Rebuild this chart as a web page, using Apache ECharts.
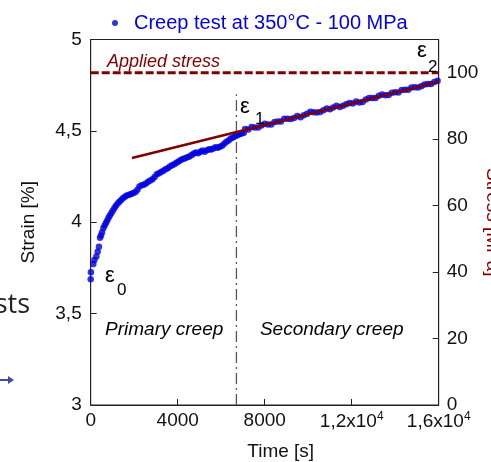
<!DOCTYPE html>
<html>
<head>
<meta charset="utf-8">
<script src="https://cdn.jsdelivr.net/npm/echarts@6/dist/echarts.min.js"></script>
<style>html,body{margin:0;padding:0;background:#fff;}#c{width:491px;height:462px;}</style>
</head>
<body>
<div id="c"></div>
<script>
// ---- data ----
var timeS = [0,10,120,170,260,320,380,430,470,520,580,640,700,760,820,880,950,1020,1090,1160,1240,1320,1400,1480,1570,1660,1760,1860,1960,2060,2150,2240,2340,2440,2540,2640,2740,2840,2940,3040,3140,3240,3340,3440,3540,3640,3740,3840,3940,4040,4140,4240,4340,4440,4540,4640,4740,4840,4940,5040,5140,5240,5340,5440,5540,5640,5740,5840,5940,6040,6140,6240,6340,6440,6540,6640,6740,6840,6940,7040,
  7100,7250,7400,7550,7700,7850,8000,8150,8300,8450,8600,8750,8900,9050,9200,9350,9500,9650,9800,9950,10100,10250,10400,10550,10700,10850,11000,11150,11300,11450,11600,11750,11900,12050,12200,12350,12500,12650,12800,12950,13100,13250,13400,13550,13700,13850,14000,14150,14300,14450,14600,14750,14900,15050,15200,15350,15500,15650,15800,15950];
var strainPct = [3.688,3.726,3.772,3.793,3.812,3.839,3.866,3.915,3.928,3.944,3.967,3.982,3.996,4.010,4.025,4.037,4.050,4.064,4.078,4.090,4.102,4.112,4.122,4.132,4.140,4.146,4.150,4.155,4.160,4.165,4.178,4.195,4.203,4.205,4.212,4.222,4.228,4.235,4.248,4.262,4.268,4.275,4.282,4.290,4.296,4.305,4.312,4.318,4.326,4.332,4.340,4.346,4.350,4.356,4.360,4.368,4.376,4.382,4.378,4.386,4.392,4.386,4.394,4.400,4.398,4.404,4.410,4.408,4.413,4.418,4.430,4.440,4.448,4.458,4.464,4.470,4.476,4.482,4.486,4.490,
  4.510,4.507,4.521,4.519,4.519,4.530,4.539,4.535,4.535,4.549,4.551,4.551,4.567,4.566,4.565,4.571,4.582,4.575,4.586,4.594,4.604,4.602,4.601,4.603,4.613,4.623,4.618,4.628,4.637,4.630,4.638,4.646,4.653,4.650,4.661,4.655,4.658,4.672,4.680,4.680,4.680,4.692,4.699,4.695,4.696,4.708,4.711,4.710,4.724,4.725,4.725,4.738,4.739,4.737,4.744,4.754,4.757,4.757,4.768,4.774];

var fitTime = [1900, 16000];
var fitStrain = [4.352, 4.769];

var stressTime = [0, 16000];
var stressMPa = [100, 100];

var boundaryTime = [6700, 6700];
var boundaryStrain = [3, 4.70];

var xTicks = [0, 16000, 4000];      // min, max, interval
var yLeftTicks = [3, 5, 0.5];
var yRightTicks = [0, 110, 20];

var seriesName = 'Creep test at 350°C - 100 MPa';

// annotation texts and their anchor points (data coordinates)
var annotText   = ['Applied stress', 'Primary creep', 'Secondary creep', 'ε', '0', 'ε', '1', 'ε', '2'];
var annotTime   = [750, 660, 7780, 660, 1209, 6864, 7554, 15002, 15508];
var annotStrain = [4.877, 3.410, 3.410, 3.706, 3.629, 4.631, 4.565, 4.937, 4.849];
var annotKind   = ['stress', 'italic', 'italic', 'eps', 'sub', 'eps', 'sub', 'eps', 'sub'];

// ---- chart ----
var FONT = 'Liberation Sans, Arial, sans-serif';
var DARKRED = '#800000';
var BLUE = '#0000e0';

var kindStyle = {
  stress: {color: DARKRED, fontStyle: 'italic', fontSize: 18},
  italic: {color: '#000', fontStyle: 'italic', fontSize: 19},
  eps: {color: '#000', fontSize: 22},
  sub: {color: '#000', fontSize: 17}
};

var scatterData = timeS.map(function (t, i) { return [t, strainPct[i]]; });
var annotData = annotText.map(function (txt, i) {
  var st = kindStyle[annotKind[i]];
  return {
    value: [annotTime[i], annotStrain[i]],
    name: txt,
    label: {
      show: true, position: 'right', distance: 0, formatter: txt, opacity: 1,
      textBorderWidth: 0, textShadowBlur: 0,
      color: st.color, fontStyle: st.fontStyle || 'normal', fontSize: st.fontSize, fontFamily: FONT
    }
  };
});

function fmtComma(v) { return String(v).replace('.', ','); }

var chart = echarts.init(document.getElementById('c'), null, {renderer: 'canvas'});
chart.setOption({
  animation: false,
  backgroundColor: '#fff',
  textStyle: {fontFamily: FONT},
  grid: {left: 90.7, right: 52.3, top: 39.5, bottom: 57, show: true, borderColor: '#222', borderWidth: 1,
    containLabel: false, outerBoundsMode: 'none'},
  legend: {
    data: [seriesName], left: 107, top: 8, icon: 'circle', itemWidth: 6, itemHeight: 6,
    textStyle: {color: BLUE, fontSize: 20, fontFamily: FONT, padding: [0, 0, 0, 11]},
    selectedMode: false
  },
  graphic: [
    {type: 'text', right: 461, top: 292, style: {text: 'sts', fontSize: 27, fontFamily: 'Open Sans, sans-serif', fill: '#222'}},
    {type: 'line', shape: {x1: 0, y1: 380, x2: 9, y2: 380}, style: {stroke: '#4747a8', lineWidth: 2}},
    {type: 'polygon', shape: {points: [[8, 376], [14, 380], [8, 384]]}, style: {fill: '#4747a8'}}
  ],
  xAxis: {
    type: 'value', min: xTicks[0], max: xTicks[1], interval: xTicks[2],
    name: 'Time [s]', nameLocation: 'middle', nameGap: 37, nameMoveOverlap: false,
    nameTextStyle: {fontSize: 19, color: '#111', fontFamily: FONT, padding: [0, 0, 0, 32]},
    axisLine: {lineStyle: {color: '#222', width: 1}},
    axisTick: {inside: true, length: 6, lineStyle: {color: '#222'}},
    splitLine: {show: false},
    axisLabel: {
      margin: 6, color: '#111', fontSize: 19, fontFamily: FONT,
      formatter: function (v) {
        if (v >= 10000) return '{n|' + fmtComma(v / 10000) + 'x10}{s|4}';
        return String(v);
      },
      rich: {
        n: {fontSize: 19, color: '#111', fontFamily: FONT},
        s: {fontSize: 12, color: '#111', fontFamily: FONT, verticalAlign: 'top', padding: [0, 0, 10, 0]}
      }
    }
  },
  yAxis: [{
    type: 'value', min: yLeftTicks[0], max: yLeftTicks[1], interval: yLeftTicks[2],
    name: 'Strain [%]', nameLocation: 'middle', nameGap: 52, nameMoveOverlap: false,
    nameTextStyle: {fontSize: 19, color: '#111', fontFamily: FONT},
    axisLine: {show: true, lineStyle: {color: '#222', width: 1}},
    axisTick: {show: true, inside: true, length: 6, lineStyle: {color: '#222'}},
    splitLine: {show: false},
    axisLabel: {margin: 9, color: '#111', fontSize: 19, fontFamily: FONT, formatter: fmtComma}
  }, {
    type: 'value', position: 'right', min: yRightTicks[0], max: yRightTicks[1], interval: yRightTicks[2],
    name: 'Stress [MPa]', nameLocation: 'middle', nameGap: 44, nameRotate: -90, nameMoveOverlap: false,
    nameTextStyle: {fontSize: 19, color: DARKRED, fontFamily: FONT},
    axisLine: {show: true, lineStyle: {color: '#222', width: 1}},
    axisTick: {show: true, inside: true, length: 6, lineStyle: {color: '#222'}},
    splitLine: {show: false},
    axisLabel: {margin: 8, color: '#111', fontSize: 19, fontFamily: FONT, showMaxLabel: false,
      formatter: function (v) { return v > 100 ? '' : String(v); }}
  }],
  series: [
    {
      name: 'stress', type: 'line', yAxisIndex: 1, silent: true, symbol: 'none',
      data: stressTime.map(function (t, i) { return [t, stressMPa[i]]; }),
      lineStyle: {color: DARKRED, width: 3, type: [8, 3]}, z: 2
    },
    {
      name: 'boundary', type: 'line', silent: true, symbol: 'none',
      data: boundaryTime.map(function (t, i) { return [t, boundaryStrain[i]]; }),
      lineStyle: {color: '#555', width: 1.3, type: [11, 4, 2, 4]}, z: 2
    },
    {
      name: seriesName, type: 'scatter', symbol: 'circle', symbolSize: 6.5,
      data: scatterData, itemStyle: {color: BLUE}, z: 3
    },
    {
      name: 'fit', type: 'line', silent: true, symbol: 'none',
      data: fitTime.map(function (t, i) { return [t, fitStrain[i]]; }),
      lineStyle: {color: DARKRED, width: 2.5}, z: 4
    },
    {
      name: 'annotations', type: 'scatter', silent: true, symbolSize: 0,
      data: annotData, z: 5
    }
  ]
});
</script>
</body>
</html>
